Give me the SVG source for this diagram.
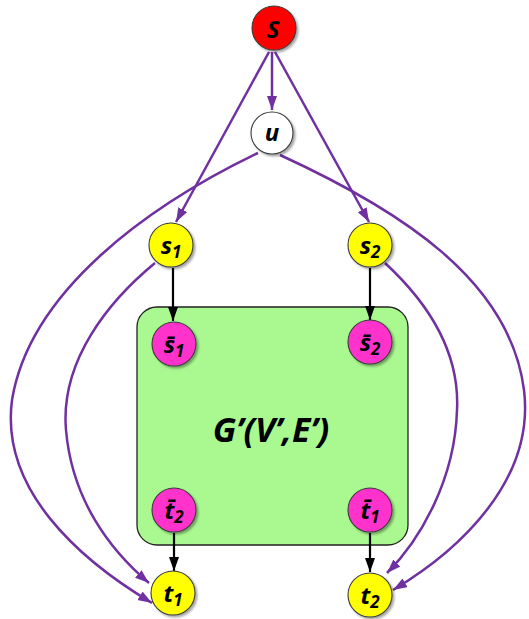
<svg xmlns="http://www.w3.org/2000/svg" width="529" height="619" viewBox="0 0 529 619">
<style>
.node{stroke:#3a3a3a;stroke-width:1.1;filter:url(#sh)}
.lbl{font-family:"Open Sans","Liberation Sans",sans-serif;font-weight:bold;font-style:italic;font-size:24px;fill:#000;text-anchor:middle}
.sub{font-size:17px}
.pe{fill:none;stroke:#7030A0;stroke-width:2.5;marker-end:url(#pa)}
.be{fill:none;stroke:#000;stroke-width:2.2;marker-end:url(#ba)}
</style>
<defs>
<filter id="sh" x="-30%" y="-30%" width="170%" height="170%">
<feDropShadow dx="2" dy="2" stdDeviation="1.2" flood-color="#000" flood-opacity="0.35"/>
</filter>
<marker id="pa" markerUnits="userSpaceOnUse" markerWidth="16" markerHeight="12" refX="14" refY="5" orient="auto">
<path d="M0,0 L14,5 L0,10 Z" fill="#7030A0"/>
</marker>
<marker id="ba" markerUnits="userSpaceOnUse" markerWidth="16" markerHeight="12" refX="14" refY="5" orient="auto">
<path d="M0,0 L14,5 L0,10 Z" fill="#000"/>
</marker>
</defs>
<g id="box">
<rect x="137" y="307" width="271" height="238" rx="20" fill="#AAF890" stroke="#222" stroke-width="1.3"/>
<text x="271" y="442" font-family="Open Sans, Liberation Sans, sans-serif" font-weight="bold" font-style="italic" font-size="34" text-anchor="middle">G’(V’,E’)</text>
</g>
<g id="edges">
<path class="pe" d="M272,52 L272,110"/>
<path class="pe" d="M269,52 L176,222"/>
<path class="pe" d="M275,52 L369,222"/>
<path class="pe" d="M258,153 C150,205 30,290 12,400 C0,490 80,560 152,603"/>
<path class="pe" d="M155,263 C110,300 60,360 66,430 C72,500 110,550 149,583"/>
<path class="pe" d="M280,155 C400,210 510,280 524,390 C535,480 460,550 393,590"/>
<path class="pe" d="M385,263 C425,300 460,350 457,410 C455,480 420,540 387,573"/>
<path class="be" d="M173,268 L173,321"/>
<path class="be" d="M370,268 L370,320"/>
<path class="be" d="M174,533 L174,571"/>
<path class="be" d="M370,533 L370,572"/>
</g>
<g id="S"><circle class="node" cx="274" cy="28" r="22" fill="#FF0000"/><text class="lbl" x="273" y="38" font-size="28">S</text></g>
<g id="u"><circle class="node" cx="272" cy="133" r="21" fill="#FFFFFF"/><text class="lbl" x="272" y="141" font-size="29">u</text></g>
<g id="s1"><circle class="node" cx="171" cy="245" r="22" fill="#FFFF00"/><text class="lbl" x="171" y="254">s<tspan class="sub" dy="4">1</tspan></text></g>
<g id="s2"><circle class="node" cx="370" cy="245" r="22" fill="#FFFF00"/><text class="lbl" x="370" y="254">s<tspan class="sub" dy="4">2</tspan></text></g>
<g id="s1bar"><circle class="node" cx="174" cy="344" r="22" fill="#FF33CC"/><text class="lbl" x="174" y="353">s̄<tspan class="sub" dy="4">1</tspan></text></g>
<g id="s2bar"><circle class="node" cx="370" cy="342" r="22" fill="#FF33CC"/><text class="lbl" x="370" y="351">s̄<tspan class="sub" dy="4">2</tspan></text></g>
<g id="t2bar"><circle class="node" cx="174" cy="510" r="22" fill="#FF33CC"/><text class="lbl" x="174" y="519">t̄<tspan class="sub" dy="4">2</tspan></text></g>
<g id="t1bar"><circle class="node" cx="370" cy="510" r="22" fill="#FF33CC"/><text class="lbl" x="370" y="519">t̄<tspan class="sub" dy="4">1</tspan></text></g>
<g id="t1"><circle class="node" cx="173" cy="593" r="22" fill="#FFFF00"/><text class="lbl" x="173" y="602">t<tspan class="sub" dy="4">1</tspan></text></g>
<g id="t2"><circle class="node" cx="370" cy="595" r="22" fill="#FFFF00"/><text class="lbl" x="370" y="604">t<tspan class="sub" dy="4">2</tspan></text></g>
</svg>
